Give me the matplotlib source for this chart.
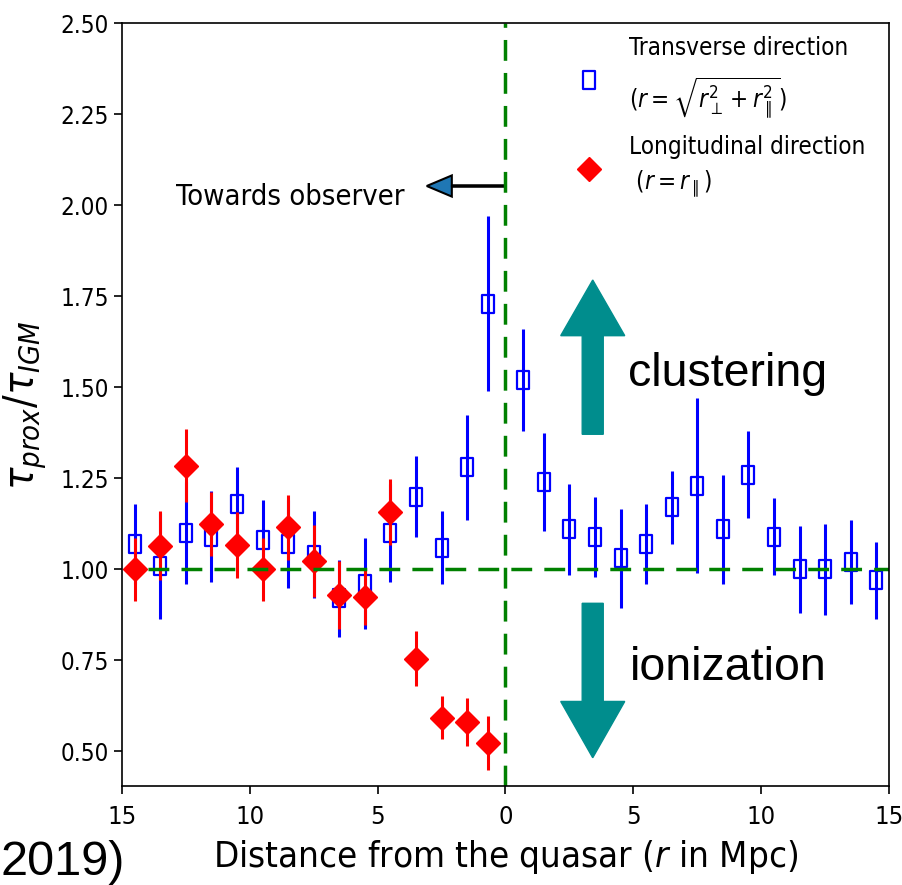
import matplotlib
matplotlib.use('Agg')
import matplotlib.pyplot as plt
import matplotlib.font_manager as fm
from matplotlib.path import Path
from matplotlib.patches import FancyArrow
from matplotlib.ticker import FuncFormatter, MultipleLocator

# try a condensed DejaVu face, the reference text is narrow
cond = [f for f in fm.fontManager.ttflist if 'DejaVuSansCondensed' in f.fname]
if cond:
    plt.rcParams['font.family'] = [cond[0].name, 'DejaVu Sans']
    plt.rcParams['font.stretch'] = 'condensed'
    k = 0.89
else:
    plt.rcParams['font.family'] = ['DejaVu Sans']
    k = 0.85
plt.rcParams['mathtext.fontset'] = 'dejavusans'

# transverse direction (blue squares)
dist_tr = [-14.5, -13.5, -12.5, -11.5, -10.5, -9.5, -8.5, -7.5, -6.5, -5.5,
           -4.5, -3.5, -2.5, -1.5, -0.7, 0.7, 1.5, 2.5, 3.5, 4.5,
           5.5, 6.5, 7.5, 8.5, 9.5, 10.5, 11.5, 12.5, 13.5, 14.5]
tau_tr = [1.07, 1.01, 1.10, 1.09, 1.18, 1.08, 1.07, 1.04, 0.92, 0.96,
          1.10, 1.20, 1.06, 1.28, 1.73, 1.52, 1.24, 1.11, 1.09, 1.03,
          1.07, 1.17, 1.23, 1.11, 1.26, 1.09, 1.00, 1.00, 1.02, 0.97]
err_tr = [0.11, 0.145, 0.14, 0.125, 0.10, 0.11, 0.12, 0.12, 0.105, 0.125,
          0.135, 0.11, 0.10, 0.145, 0.24, 0.14, 0.135, 0.125, 0.11, 0.135,
          0.11, 0.10, 0.24, 0.15, 0.12, 0.105, 0.12, 0.125, 0.115, 0.105]

# longitudinal direction (red diamonds)
dist_lo = [-14.5, -13.5, -12.5, -11.5, -10.5, -9.5, -8.5, -7.5, -6.5, -5.5,
           -4.5, -3.5, -2.5, -1.5, -0.7]
tau_lo = [1.00, 1.065, 1.285, 1.125, 1.067, 1.00, 1.115, 1.023, 0.93, 0.923,
          1.157, 0.755, 0.593, 0.581, 0.522]
err_lo = [0.086, 0.095, 0.10, 0.088, 0.09, 0.086, 0.09, 0.10, 0.093, 0.077,
          0.09, 0.075, 0.058, 0.065, 0.074]

label_tr = 'Transverse direction\n($r=\\sqrt{r_{\\perp}^2+r_{\\parallel}^2}$)'
label_lo = 'Longitudinal direction\n ($r=r_{\\parallel}$)'

fig = plt.figure(figsize=(9.03, 8.85), dpi=100)
ax = fig.add_axes([0.1351, 0.1119, 0.8494, 0.8618])

# narrow open square, as in the squeezed reference
sq = Path([(-0.37, -0.5), (0.37, -0.5), (0.37, 0.5), (-0.37, 0.5), (-0.37, -0.5)],
          [Path.MOVETO, Path.LINETO, Path.LINETO, Path.LINETO, Path.CLOSEPOLY])

ax.errorbar(dist_tr, tau_tr, yerr=err_tr, fmt='none', ecolor='blue', elinewidth=2.2)
h1, = ax.plot(dist_tr, tau_tr, ls='none', marker=sq, ms=12.5, mfc='none',
              mec='blue', mew=1.6, label=label_tr)
ax.errorbar(dist_lo, tau_lo, yerr=err_lo, fmt='none', ecolor='red', elinewidth=2.2)
h2, = ax.plot(dist_lo, tau_lo, ls='none', marker='D', ms=12, mfc='red',
              mec='red', label=label_lo)

ax.plot([-14, 15], [1, 1], ls='--', color='green', lw=2.5, dashes=(6, 3.5))
ax.axvline(0, ls='--', color='green', lw=2.5, dashes=(6, 3.5))

ax.arrow(0, 2.053, -3.08, 0, width=0.004, head_width=0.058, head_length=0.98,
         length_includes_head=True, fc='#1f77b4', ec='black', lw=1.5)
ax.text(-12.9, 2.0, 'Towards observer', fontsize=23.5 * k, va='baseline')

ax.set_xlim(-15, 15)
ax.set_ylim(0.405, 2.5)
ax.xaxis.set_major_locator(MultipleLocator(5))
ax.yaxis.set_major_locator(MultipleLocator(0.25))
ax.xaxis.set_major_formatter(FuncFormatter(lambda v, p: '%d' % abs(v)))
ax.yaxis.set_major_formatter(FuncFormatter(lambda v, p: '%.2f' % v))
ax.tick_params(axis='x', labelsize=20.5 * k, length=6, width=1.2, pad=8)
ax.tick_params(axis='y', labelsize=19.5 * k, length=6, width=1.2)
for s in ax.spines.values():
    s.set_linewidth(1.2)

ax.set_xlabel('Distance from the quasar ($r$ in Mpc)', fontsize=29.5 * k, labelpad=6)
ax.set_ylabel('$\\tau_{prox}/\\tau_{IGM}$', fontsize=30, labelpad=8)

leg = ax.legend(handles=[h1, h2], loc='upper left', bbox_to_anchor=(0.593, 0.983),
                frameon=False, fontsize=19.5 * k, handlelength=1.0, handletextpad=1.15,
                borderpad=0, borderaxespad=0, labelspacing=0.6)
for t in leg.get_texts():
    t.set_linespacing(1.45)

# slide overlays
teal = '#008d8d'
fig.patches.append(FancyArrow(0.6564, 0.5093, 0, 0.1743, width=0.0233, head_width=0.0709,
                              head_length=0.0629, length_includes_head=True,
                              color=teal, transform=fig.transFigure, figure=fig))
fig.patches.append(FancyArrow(0.6564, 0.3183, 0, -0.1745, width=0.0233, head_width=0.0709,
                              head_length=0.0636, length_includes_head=True,
                              color=teal, transform=fig.transFigure, figure=fig))
fig.text(0.6955, 0.5638, 'clustering', fontsize=33.5, family='Liberation Sans')
fig.text(0.6977, 0.2316, 'ionization', fontsize=33.5, family='Liberation Sans')
fig.text(0.001, 0.0113, '2019)', fontsize=35, family='Liberation Sans', ha='left')

fig.savefig('out.png', dpi=100)
